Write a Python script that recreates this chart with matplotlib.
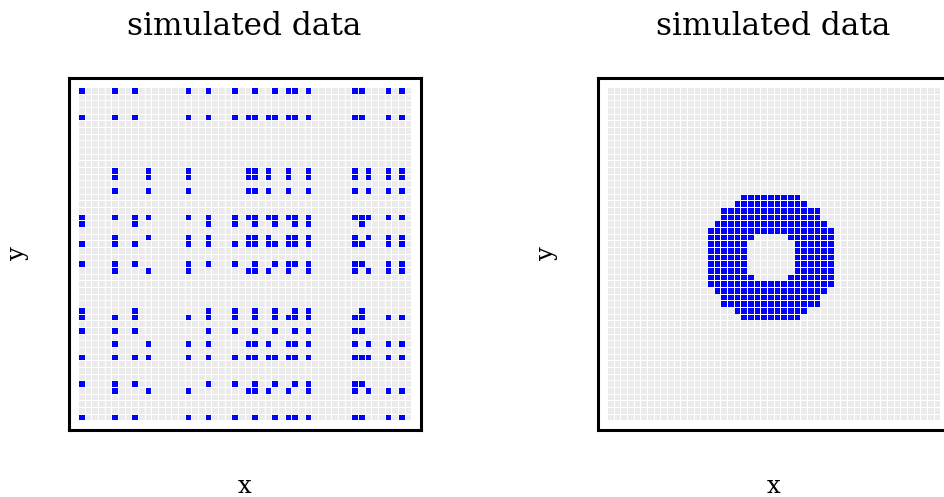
import numpy as np
import matplotlib
matplotlib.use("Agg")
import matplotlib.pyplot as plt
from matplotlib.colors import ListedColormap


# ring (right panel): blue span for grid rows 16..34 (row 0 at top)
ring_rows = list(range(16, 35))
ring_first = [20, 19, 17, 17, 16, 15, 15, 15, 15, 15, 15, 15, 15, 15, 16, 17, 17, 19, 20]
ring_last = [28, 29, 31, 31, 32, 33, 33, 33, 33, 33, 33, 33, 33, 33, 32, 31, 31, 29, 28]

# hole in the middle of the ring
hole_rows = [22, 23, 24, 25, 26, 27, 28]
hole_first = [22, 21, 21, 21, 21, 21, 22]
hole_last = [26, 27, 27, 27, 27, 27, 26]

# left panel = ring with rows and columns shuffled
row_order = [18, 0, 1, 2, 20, 3, 4, 5, 6, 7, 8, 9, 23, 24, 10, 25, 11, 12, 13, 21,
             16, 14, 22, 30, 15, 35, 19, 26, 36, 37, 38, 39, 40, 34, 31, 41, 17, 42, 28, 43,
             29, 44, 45, 46, 33, 27, 47, 48, 49, 32]
col_order = [22, 0, 1, 2, 3, 19, 4, 5, 23, 6, 15, 7, 8, 9, 10, 11, 17, 12, 13, 21,
             14, 34, 35, 24, 36, 16, 20, 37, 32, 25, 38, 18, 27, 39, 28, 40, 41, 42, 43, 44,
             45, 29, 26, 33, 46, 47, 30, 48, 31, 49]

n = 50
ring = np.zeros((n, n))
for r, a, b in zip(ring_rows, ring_first, ring_last):
    ring[r, a:b + 1] = 1
for r, a, b in zip(hole_rows, hole_first, hole_last):
    ring[r, a:b + 1] = 0
shuffled = ring[np.ix_(row_order, col_order)]

W, H = 944, 497
fig = plt.figure(figsize=(W / 100, H / 100), dpi=100)
cmap = ListedColormap(["#ebebeb", "#0000ff"])
serif = "DejaVu Serif"


def panel(x0, mat):
    # x0 = left edge of the box in pixels
    ax = fig.add_axes([x0 / W, 1 - 430 / H, 352 / W, 352.5 / H])
    ax.pcolormesh(np.arange(n + 1), np.arange(n + 1), mat, cmap=cmap,
                  vmin=0, vmax=1, edgecolors="white", linewidth=0.7)
    ax.set_xlim(-1.4, n + 1.4)
    ax.set_ylim(n + 1.45, -1.45)
    ax.set_xticks([])
    ax.set_yticks([])
    for s in ax.spines.values():
        s.set_linewidth(2.2)
        s.set_color("black")
    cx = (x0 + 176) / W
    fig.text(cx, 1 - 35 / H, "simulated data", ha="center", va="baseline",
             fontsize=22.5, family=serif)
    fig.text(cx, 1 - 493 / H, "x", ha="center", va="baseline",
             fontsize=17.5, family=serif)
    fig.text((x0 - 51) / W, 1 - 253 / H, "y", ha="center", va="center",
             rotation=90, fontsize=17.5, family=serif)
    return ax


panel(68.5, shuffled)
panel(597.5, ring)

fig.savefig("out.png", dpi=100)
